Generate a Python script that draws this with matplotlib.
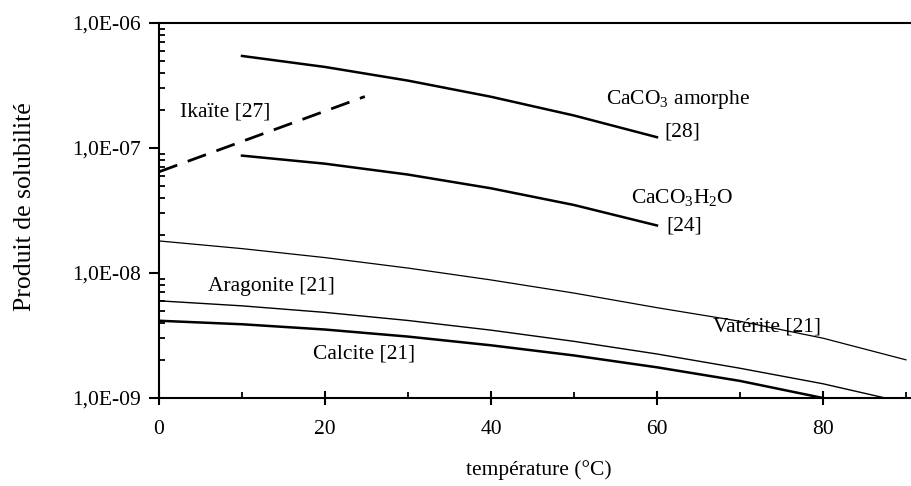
import numpy as np
import matplotlib
matplotlib.use('Agg')
import matplotlib.pyplot as plt
from matplotlib.ticker import FuncFormatter, LogLocator, MultipleLocator, NullFormatter

plt.rcParams['font.family'] = ['Liberation Serif', 'DejaVu Serif']
plt.rcParams['mathtext.fontset'] = 'custom'
plt.rcParams['mathtext.rm'] = 'Liberation Serif'

# temperatures (°C) and solubility products
T_amorphe = [10, 20, 30, 40, 50, 60]
K_amorphe = [5.45e-7, 4.45e-7, 3.46e-7, 2.57e-7, 1.82e-7, 1.22e-7]

T_h2o = [10, 20, 30, 40, 50, 60]
K_h2o = [8.69e-8, 7.49e-8, 6.13e-8, 4.76e-8, 3.50e-8, 2.40e-8]

T_ikaite = [0, 24.8]
K_ikaite = [6.45e-8, 2.58e-7]

T_vaterite = [0, 10, 20, 30, 40, 50, 60, 70, 80, 90]
K_vaterite = [1.805e-8, 1.567e-8, 1.328e-8, 1.095e-8, 8.80e-9, 6.91e-9, 5.28e-9, 4.11e-9, 3.01e-9, 2.02e-9]

T_aragonite = [0, 10, 20, 30, 40, 50, 60, 70, 80, 87.5]
K_aragonite = [5.99e-9, 5.46e-9, 4.84e-9, 4.17e-9, 3.49e-9, 2.84e-9, 2.25e-9, 1.73e-9, 1.30e-9, 1.0e-9]

T_calcite = [0, 10, 20, 30, 40, 50, 60, 70, 80]
K_calcite = [4.15e-9, 3.89e-9, 3.53e-9, 3.10e-9, 2.64e-9, 2.19e-9, 1.76e-9, 1.37e-9, 1.0e-9]

fs = 15.5
fig = plt.figure(figsize=(9.11, 4.86), dpi=100)
ax = fig.add_axes([159/911, 1-398/486, 1-159/911-0.001, (398-23)/486])

ax.plot(T_amorphe, K_amorphe, color='k', lw=1.8)
ax.plot(T_h2o, K_h2o, color='k', lw=1.8)
ax.plot(T_ikaite, K_ikaite, color='k', lw=2.0, dashes=(7, 4))
ax.plot(T_vaterite, K_vaterite, color='k', lw=0.9)
ax.plot(T_aragonite, K_aragonite, color='k', lw=1.0)
ax.plot(T_calcite, K_calcite, color='k', lw=1.8)

ax.set_yscale('log')
ax.set_xlim(0, 90.5)
ax.set_ylim(1e-9, 1e-6)

ax.spines['right'].set_visible(False)
for s in ['left', 'bottom', 'top']:
    ax.spines[s].set_linewidth(1.5)

ax.xaxis.set_major_locator(MultipleLocator(20))
ax.xaxis.set_minor_locator(MultipleLocator(10))
ax.yaxis.set_major_locator(LogLocator(base=10, numticks=10))
ax.yaxis.set_minor_locator(LogLocator(base=10, subs=np.arange(2, 10), numticks=10))
ax.yaxis.set_minor_formatter(NullFormatter())
ax.yaxis.set_major_formatter(FuncFormatter(lambda v, p: '1,0E-%02d' % round(-np.log10(v))))

ax.tick_params(axis='x', which='major', direction='inout', length=10, width=1.5, pad=11, labelsize=fs, top=False)
ax.tick_params(axis='x', which='minor', direction='in', length=4, width=1.3, top=False)
ax.tick_params(axis='y', which='major', direction='out', length=7, width=1.5, pad=6, labelsize=fs, right=False)
ax.tick_params(axis='y', which='minor', direction='in', length=4, width=1.3, right=False)

# labels on the curves
ax.text(8.0, 1.95e-7, 'Ikaïte [27]', fontsize=fs, ha='center', va='center')
ax.text(62.5, 2.43e-7, r'CaCO$_\mathrm{3}$ amorphe', fontsize=fs, ha='center', va='center')
ax.text(63, 1.35e-7, '[28]', fontsize=fs, ha='center', va='center')
ax.text(63.1, 4.0e-8, r'CaCO$_\mathrm{3}$H$_\mathrm{2}$O', fontsize=fs, ha='center', va='center')
ax.text(63.3, 2.36e-8, '[24]', fontsize=fs, ha='center', va='center')
ax.text(13.6, 7.8e-9, 'Aragonite [21]', fontsize=fs, ha='center', va='center')
ax.text(24.7, 2.24e-9, 'Calcite [21]', fontsize=fs, ha='center', va='center')
ax.text(73.3, 3.68e-9, 'Vatérite [21]', fontsize=fs, ha='center', va='center')

fig.text(25/911, 1-207/486, 'Produit de solubilité', rotation=90, fontsize=18.5, ha='center', va='center')
fig.text(539/911, 1-470/486, 'température (°C)', fontsize=fs, ha='center', va='center')

fig.savefig('out.png', dpi=100)
